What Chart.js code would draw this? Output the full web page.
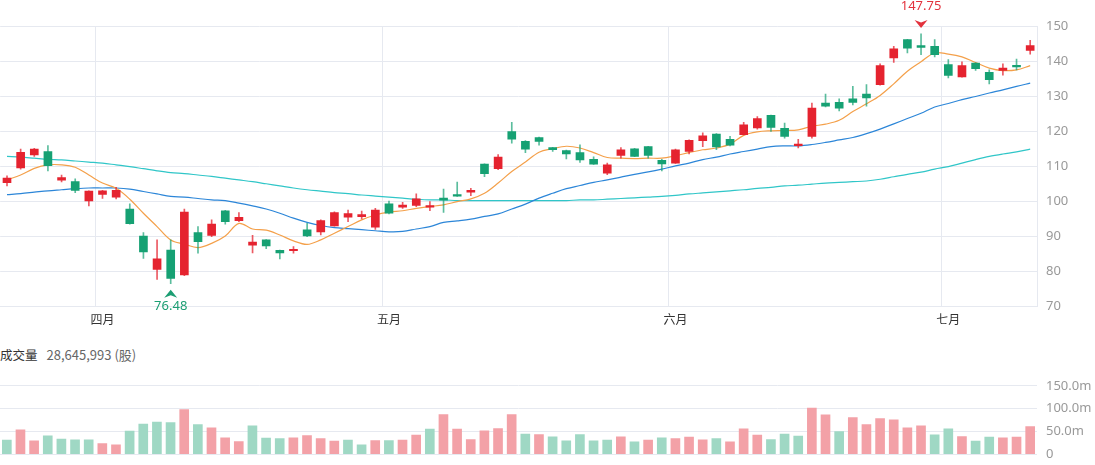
<!DOCTYPE html>
<html><head><meta charset="utf-8">
<script src="https://cdn.jsdelivr.net/npm/chart.js@4.4.0/dist/chart.umd.min.js"></script>
<style>
html,body{margin:0;padding:0;background:#fff;width:1095px;height:465px;overflow:hidden;}
#wrap{position:relative;width:1095px;height:465px;overflow:hidden;}
#top{position:absolute;left:0;top:0;width:1095px;height:340px;}
#vol{position:absolute;left:0;top:369.2px;width:1095px;height:102px;}
#vlabel{position:absolute;left:0;top:345px;font:12.5px 'Noto Sans CJK TC','Noto Sans',sans-serif;color:#333;white-space:nowrap;}
#vlabel span{color:#666;margin-left:9px;font-size:13px;}
</style></head>
<body>
<div id="wrap">
<div id="top"><canvas id="c1" width="1095" height="340"></canvas></div>
<div id="vlabel">成交量<span>28,645,993 (股)</span></div>
<div id="vol"><canvas id="c2" width="1095" height="102"></canvas></div>
</div>
<script>
// ---- data ----
const monthNames = ['三月','四月','五月','六月','七月'];
const monthDays = [7, 21, 21, 20, 7];
const prevClose = 107.2;
const open = [105.3,109.5,113.2,114.2,106.0,105.6,100.1,102.0,101.2,97.8,
  90.1,80.6,86.1,79.0,91.1,90.3,97.3,94.5,87.5,89.0,
  86.0,85.9,91.9,91.3,93.0,95.5,95.6,92.6,99.3,98.3,
  98.8,98.3,100.9,101.9,102.6,110.6,109.3,119.9,117.1,118.2,
  115.3,114.5,113.9,112.0,108.0,113.1,115.0,115.6,111.7,110.9,
  114.2,117.3,119.2,117.7,119.0,120.9,124.5,120.8,115.9,118.5,
  128.0,128.2,129.2,130.6,133.3,140.9,146.1,144.4,144.2,139.0,
  135.5,139.4,136.8,137.3,138.8,143.0];
const high = [107.3,114.9,115.1,115.9,107.5,106.4,103.0,103.1,104.0,99.3,
  91.1,89.0,89.0,97.8,92.8,94.7,97.4,96.8,90.3,89.1,
  86.1,87.1,93.7,94.7,97.0,97.5,97.2,98.0,100.1,99.7,
  102.1,99.9,103.5,105.5,103.7,110.7,113.3,122.5,117.3,118.3,
  115.4,114.6,116.1,112.7,110.9,115.3,115.1,115.7,112.0,114.9,
  117.5,119.5,119.3,118.5,122.5,124.2,124.6,122.3,117.7,128.0,
  130.6,129.2,132.8,133.3,139.2,144.2,146.2,147.75,146.1,140.4,
  139.8,139.5,137.5,139.2,140.6,145.9];
const low = [104.4,109.2,112.8,108.7,105.5,102.5,98.7,100.8,100.7,93.5,
  83.7,77.7,76.48,78.8,85.2,89.9,93.5,94.2,85.3,86.5,
  83.6,85.2,89.9,90.4,92.9,94.2,95.0,92.0,96.4,98.0,
  98.5,97.3,96.8,101.4,101.6,107.0,109.0,116.6,113.9,116.0,
  114.2,112.1,111.1,110.5,107.6,112.3,112.7,112.3,108.7,110.8,
  113.5,115.6,114.7,115.8,118.9,120.6,119.9,118.0,115.2,118.0,
  126.9,125.8,127.5,127.1,133.1,139.6,142.3,141.8,141.2,135.2,
  135.4,137.3,133.5,136.0,137.5,142.0];
const close = [106.6,114.0,114.9,110.2,106.8,103.1,102.9,103.0,103.1,93.6,
  85.6,83.6,78.0,96.9,88.5,93.5,94.2,95.4,88.4,87.3,
  85.3,86.3,90.1,94.5,96.8,96.5,96.2,97.5,96.6,98.9,
  100.7,98.8,100.3,101.5,103.1,107.9,112.6,117.7,114.9,117.1,
  114.7,113.5,111.8,110.6,110.4,114.7,112.8,113.1,110.7,114.7,
  117.4,118.7,115.5,116.0,121.8,123.6,121.1,118.5,116.3,126.6,
  127.1,126.6,128.2,129.5,138.7,143.5,143.7,143.9,141.8,135.9,
  138.7,137.8,134.7,138.0,138.3,144.4];
const ma5 = [106.1,107.5,109.4,110.4,110.4,109.7,107.5,105.2,103.7,100.6,
  96.6,92.8,89.0,87.8,86.8,88.0,90.1,93.7,92.1,91.8,
  90.4,88.7,87.7,89.0,90.9,92.8,94.7,96.1,96.9,97.3,
  98.0,98.5,99.0,99.9,100.7,102.3,105.2,108.5,111.2,114.0,
  115.0,115.7,115.2,113.9,112.5,112.3,112.2,112.3,112.3,113.0,
  113.9,114.7,115.2,116.3,118.8,119.8,120.1,120.2,120.4,121.4,
  122.0,123.1,125.6,127.8,130.2,133.5,137.1,139.8,142.3,142.0,
  141.2,139.6,138.0,137.3,137.5,138.7];
const ma20 = [101.9,102.2,102.6,103.0,103.3,103.6,103.8,103.8,103.8,103.5,
  102.8,102.1,101.4,101.2,100.8,100.4,100.2,99.5,98.7,97.8,
  96.6,95.2,94.0,93.1,92.5,92.2,91.9,91.6,91.3,91.4,
  92.1,92.8,94.0,94.4,94.9,95.7,96.4,97.8,99.2,100.9,
  102.3,103.6,104.5,105.4,106.1,106.9,107.7,108.4,109.2,110.1,
  110.9,111.9,112.6,113.5,114.2,114.9,115.6,115.8,115.8,116.2,
  116.8,117.5,118.2,119.3,120.6,122.1,123.6,125.1,126.9,127.9,
  129.0,129.9,130.9,131.8,132.8,133.7];
const ma60 = [112.8,112.6,112.3,112.0,111.8,111.5,111.2,110.9,110.4,109.9,
  109.3,108.7,108.2,107.9,107.5,107.1,106.6,106.1,105.6,105.0,
  104.4,103.8,103.3,102.9,102.5,102.2,101.8,101.5,101.2,100.9,
  100.6,100.4,100.4,100.2,100.2,100.2,100.2,100.2,100.2,100.2,
  100.2,100.2,100.4,100.4,100.6,100.8,101.0,101.2,101.4,101.7,
  102.1,102.4,102.7,103.0,103.3,103.7,104.0,104.4,104.6,104.9,
  105.2,105.4,105.6,105.8,106.3,107.0,107.7,108.3,109.2,109.9,
  110.9,111.9,112.8,113.5,114.1,114.9];
const volume = [30.7,53.4,29.3,40.3,32.9,31.5,31.5,23.4,20.5,50.5,
  65.9,70.3,69.5,98.1,65.1,57.8,35.9,27.8,62.2,35.1,
  34.4,35.9,41.0,34.4,28.5,30.7,20.5,30.0,30.0,30.7,
  41.7,54.9,87.1,54.9,32.2,51.2,56.4,87.1,43.9,43.2,
  38.1,29.3,43.2,29.3,30.7,38.1,27.1,30.7,35.9,34.4,
  37.3,31.5,34.4,27.1,55.6,41.7,32.2,43.9,39.5,101.0,
  86.4,49.8,80.5,65.1,78.3,75.4,57.8,62.2,42.5,55.6,
  38.8,28.5,37.3,35.9,37.3,60.8];
const priceTicks = {min:70, max:150, step:10};
const volTicks = {min:0, max:150, step:50};

// ---- derived ----
const categories = [];
monthNames.forEach((m, k) => { for (let d = 0; d < monthDays[k]; d++) categories.push(m); });
const isMonthStart = i => typeof i === 'number' && i > 0 && i < categories.length && categories[i] !== categories[i - 1];

const RED = '#e5232f', GREEN = '#16a173';
const RED_W = 'rgba(229,35,47,0.75)', GREEN_W = 'rgba(22,161,115,0.7)';
const VRED = '#f3a1a7', VGREEN = '#9fd8c4';
const GRID = '#e6e9f0';
const FONT = "'Noto Sans', 'Noto Sans CJK TC', sans-serif";
Chart.defaults.font.family = FONT;

const up = close.map((c, i) => c >= open[i]);
const volUp = close.map((c, i) => c >= (i === 0 ? prevClose : close[i - 1]));

const markerPlugin = {
  id: 'markers',
  afterDraw(chart) {
    const xs = chart.scales.x, ys = chart.scales.y, ctx = chart.ctx;
    let hi = 0, lo = 0;
    high.forEach((h, i) => { if (h > high[hi]) hi = i; });
    low.forEach((l, i) => { if (l < low[lo]) lo = i; });
    ctx.save();
    ctx.font = '13px ' + FONT;
    ctx.textAlign = 'center';
    ctx.textBaseline = 'middle';
    let x = xs.getPixelForValue(hi), y = ys.getPixelForValue(high[hi]);
    ctx.fillStyle = '#e3323d';
    ctx.beginPath();
    ctx.moveTo(x, y - 6); ctx.lineTo(x - 6.5, y - 14); ctx.lineTo(x, y - 11.5); ctx.lineTo(x + 6.5, y - 14);
    ctx.closePath(); ctx.fill();
    ctx.fillText(high[hi].toFixed(2), x, y - 28);
    x = xs.getPixelForValue(lo); y = ys.getPixelForValue(low[lo]);
    ctx.fillStyle = '#1c9e73';
    ctx.beginPath();
    ctx.moveTo(x, y + 6); ctx.lineTo(x - 6.5, y + 14); ctx.lineTo(x, y + 11.5); ctx.lineTo(x + 6.5, y + 14);
    ctx.closePath(); ctx.fill();
    ctx.fillText(low[lo].toFixed(2), x, y + 23);
    ctx.restore();
  }
};

new Chart(document.getElementById('c1'), {
  type: 'bar',
  data: {
    labels: categories,
    datasets: [
      { type: 'bar', data: open.map((o, i) => [o, close[i]]), backgroundColor: up.map(u => u ? RED : GREEN),
        barThickness: 8, minBarLength: 1.5, grouped: false, order: 0 },
      { type: 'bar', data: low.map((l, i) => [l, high[i]]), backgroundColor: up.map(u => u ? RED_W : GREEN_W),
        barThickness: 1, grouped: false, order: 1 },
      { type: 'line', data: ma5, borderColor: '#f4a04a', borderWidth: 1.2, pointRadius: 0, tension: 0.35, order: 2 },
      { type: 'line', data: ma20, borderColor: '#2c86d8', borderWidth: 1.2, pointRadius: 0, tension: 0.35, order: 3 },
      { type: 'line', data: ma60, borderColor: '#30c6c8', borderWidth: 1.2, pointRadius: 0, tension: 0.35, order: 4 }
    ]
  },
  options: {
    responsive: false, animation: false,
    layout: { padding: { top: 26, left: 0, right: 0, bottom: 0 } },
    plugins: { legend: { display: false }, tooltip: { enabled: false } },
    scales: {
      x: {
        offset: true,
        grid: { offset: true, drawTicks: false, color: ctx => isMonthStart(ctx.index) ? GRID : 'rgba(0,0,0,0)' },
        border: { color: GRID },
        ticks: { autoSkip: false, maxRotation: 0, padding: 7, color: '#333', font: { size: 12 },
          callback: (v, i) => isMonthStart(i) ? categories[i] : '' },
        afterFit: s => { s.height = 33.5; }
      },
      y: {
        position: 'right', min: priceTicks.min, max: priceTicks.max,
        ticks: { stepSize: priceTicks.step, padding: 9, color: '#999', font: { size: 13 } },
        grid: { color: GRID, drawTicks: false },
        border: { display: true, color: GRID },
        afterFit: s => { s.width = 58; }
      }
    }
  },
  plugins: [markerPlugin]
});

new Chart(document.getElementById('c2'), {
  type: 'bar',
  data: {
    labels: categories,
    datasets: [{ data: volume, backgroundColor: volUp.map(u => u ? VRED : VGREEN), barThickness: 9 }]
  },
  options: {
    responsive: false, animation: false,
    layout: { padding: 0 },
    plugins: { legend: { display: false }, tooltip: { enabled: false } },
    scales: {
      x: { display: false, offset: true },
      y: {
        position: 'right', min: volTicks.min, max: volTicks.max,
        ticks: { stepSize: volTicks.step, padding: 9, color: '#999', font: { size: 13 },
          callback: v => v === 0 ? '0' : v.toFixed(1) + 'm' },
        grid: { color: GRID, drawTicks: false },
        border: { display: false },
        afterFit: s => { s.width = 58; }
      }
    }
  }
});
</script>
</body></html>
